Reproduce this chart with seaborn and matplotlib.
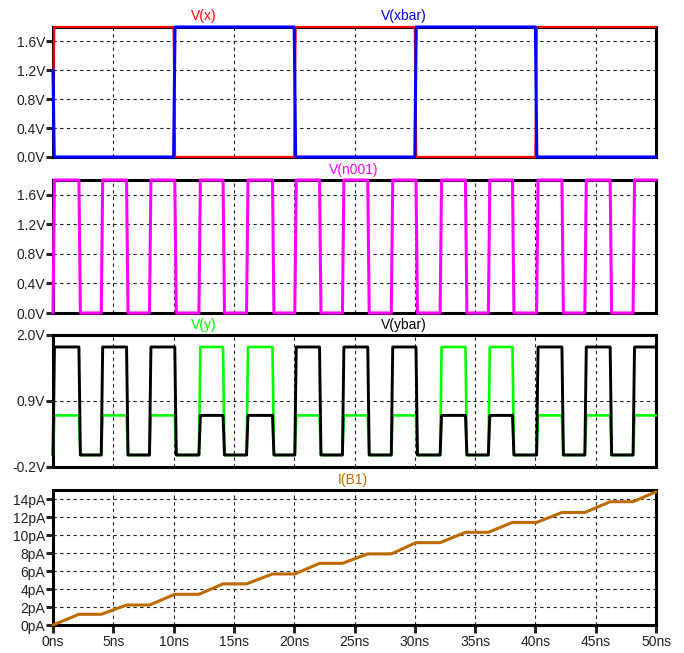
import matplotlib
matplotlib.use("Agg")
import matplotlib.pyplot as plt
import pandas as pd
import seaborn as sns

# Logic input x and its complement, switching every 10 ns
x_edges_ns = [0, 10, 20, 30, 40, 50]
v_x_levels = [1.8, 0.0, 1.8, 0.0, 1.8]
v_xbar_levels = [0.0, 1.8, 0.0, 1.8, 0.0]
v_x_start = 0.6
v_xbar_start = 1.2

# Clock node n001: rising / falling edge times (ns)
n001_rise_ns = [0.0, 4.0, 8.0, 12.1, 16.05, 20.05, 24.0, 28.05, 32.1, 36.1, 40.1, 44.1, 48.1]
n001_fall_ns = [2.15, 6.1, 10.1, 14.1, 18.2, 22.1, 26.1, 30.1, 34.2, 38.1, 42.2, 46.2]
n001_high = 1.8

# Output levels held during each clock pulse
v_y_pulse = [0.66, 0.66, 0.66, 1.8, 1.8, 0.66, 0.66, 0.66, 1.8, 1.8, 0.66, 0.66, 0.66]
v_ybar_pulse = [1.8, 1.8, 1.8, 0.66, 0.66, 1.8, 1.8, 1.8, 0.66, 0.66, 1.8, 1.8, 1.8]

# Supply current I(B1) in pA reached at the end of each clock pulse
i_b1_levels_pa = [1.19, 2.22, 3.41, 4.57, 5.67, 6.85, 7.9, 9.15, 10.3, 11.4, 12.5, 13.7, 14.8]

# Axis ticks
v_ticks = [0.0, 0.4, 0.8, 1.2, 1.6]
v_tick_labels = ["0.0V", "0.4V", "0.8V", "1.2V", "1.6V"]
y_ticks = [-0.2, 0.9, 2.0]
y_tick_labels = ["-0.2V", "0.9V", "2.0V"]
i_ticks = [0, 2, 4, 6, 8, 10, 12, 14]
i_tick_labels = ["0pA", "2pA", "4pA", "6pA", "8pA", "10pA", "12pA", "14pA"]
t_ticks = [0, 5, 10, 15, 20, 25, 30, 35, 40, 45, 50]
t_tick_labels = ["0ns", "5ns", "10ns", "15ns", "20ns", "25ns", "30ns", "35ns", "40ns", "45ns", "50ns"]

T_STOP = 50.0
EDGE = 0.12


def square_wave(edges, levels, start):
    t = [0.0, 0.0 + 0.1]
    v = [start, levels[0]]
    for i in range(1, len(levels)):
        t += [edges[i], edges[i] + EDGE]
        v += [levels[i - 1], levels[i]]
    t.append(edges[-1])
    v.append(levels[-1])
    return pd.DataFrame({"t": t, "v": v})


def pulse_train(rise, fall, highs, low=0.0):
    t = [0.0]
    v = [low]
    for k, r in enumerate(rise):
        t += [r, r + EDGE]
        v += [low, highs[k]]
        if k < len(fall):
            t += [fall[k], fall[k] + EDGE]
            v += [highs[k], low]
    t.append(T_STOP)
    v.append(v[-1])
    return pd.DataFrame({"t": t, "v": v})


def staircase(rise, fall, levels):
    t = [0.0]
    v = [0.0]
    prev = 0.0
    for k, r in enumerate(rise):
        end = fall[k] if k < len(fall) else T_STOP
        t += [r, end]
        v += [prev, levels[k]]
        prev = levels[k]
    t.append(T_STOP)
    v.append(prev)
    return pd.DataFrame({"t": t, "v": v})


sns.set_style("white")
plt.rcParams["font.family"] = ["Liberation Sans", "DejaVu Sans"]

W, H = 684, 653
fig = plt.figure(figsize=(W / 100, H / 100), dpi=100)


def make_axes(top, bottom):
    left, right = 53, 656
    return fig.add_axes([left / W, 1 - bottom / H, (right - left) / W, (bottom - top) / H])


ax1 = make_axes(27, 157)
ax2 = make_axes(180, 313)
ax3 = make_axes(335, 467)
ax4 = make_axes(490, 625)

RED, BLUE, MAG, GRN, BLK, BRN = "#ff0000", "#0000ff", "#ff00ff", "#00ff00", "#000000", "#bf6a00"

kw = dict(estimator=None, sort=False, legend=False)

sns.lineplot(data=square_wave(x_edges_ns, v_x_levels, v_x_start), x="t", y="v",
             ax=ax1, color=RED, lw=1.6, **kw)
sns.lineplot(data=square_wave(x_edges_ns, v_xbar_levels, v_xbar_start), x="t", y="v",
             ax=ax1, color=BLUE, lw=2.2, **kw)

sns.lineplot(data=pulse_train(n001_rise_ns, n001_fall_ns, [n001_high] * len(n001_rise_ns)),
             x="t", y="v", ax=ax2, color=MAG, lw=2.2, **kw)

sns.lineplot(data=pulse_train(n001_rise_ns, n001_fall_ns, v_y_pulse), x="t", y="v",
             ax=ax3, color=GRN, lw=1.9, **kw)
sns.lineplot(data=pulse_train(n001_rise_ns, n001_fall_ns, v_ybar_pulse), x="t", y="v",
             ax=ax3, color=BLK, lw=2.1, **kw)

sns.lineplot(data=staircase(n001_rise_ns, n001_fall_ns, i_b1_levels_pa), x="t", y="v",
             ax=ax4, color=BRN, lw=2.2, **kw)

panels = [
    (ax1, (0, 1.8), v_ticks, v_tick_labels),
    (ax2, (0, 1.8), v_ticks, v_tick_labels),
    (ax3, (-0.2, 2.0), y_ticks, y_tick_labels),
    (ax4, (0, 15), i_ticks, i_tick_labels),
]

for ax, ylim, ticks, labels in panels:
    ax.set_xlim(0, T_STOP)
    ax.set_ylim(*ylim)
    ax.set_yticks(ticks)
    ax.set_yticklabels(labels)
    ax.set_xticks(t_ticks)
    ax.set_xlabel("")
    ax.set_ylabel("")
    ax.set_facecolor("white")
    for s in ax.spines.values():
        s.set_visible(True)
        s.set_color("black")
        s.set_linewidth(2.2)
    ax.grid(True, color="#222222", lw=0.8, linestyle=(0, (3, 3)))
    ax.set_axisbelow(True)
    ax.tick_params(axis="y", direction="out", length=5, width=2.2, pad=0.5,
                   labelsize=10, labelcolor="#222222", left=True)
    for line in ax.lines:
        line.set_clip_on(False)
        line.set_zorder(3)
    if ax is ax4:
        ax.set_xticklabels(t_tick_labels)
        ax.tick_params(axis="x", direction="out", length=6, width=2.2, pad=1,
                       labelsize=10, labelcolor="#222222", bottom=True)
    else:
        ax.tick_params(axis="x", length=0, labelbottom=False)

# Trace names above each pane
names = [
    ("V(x)", 204, 16, RED),
    ("V(xbar)", 404, 16, BLUE),
    ("V(n001)", 354, 170, MAG),
    ("V(y)", 204, 325, GRN),
    ("V(ybar)", 404, 325, BLK),
    ("I(B1)", 353, 480, BRN),
]
for txt, px, py, col in names:
    fig.text(px / W, 1 - py / H, txt, color=col, fontsize=10, ha="center", va="center")

fig.savefig("out.png", dpi=100, facecolor="white")
